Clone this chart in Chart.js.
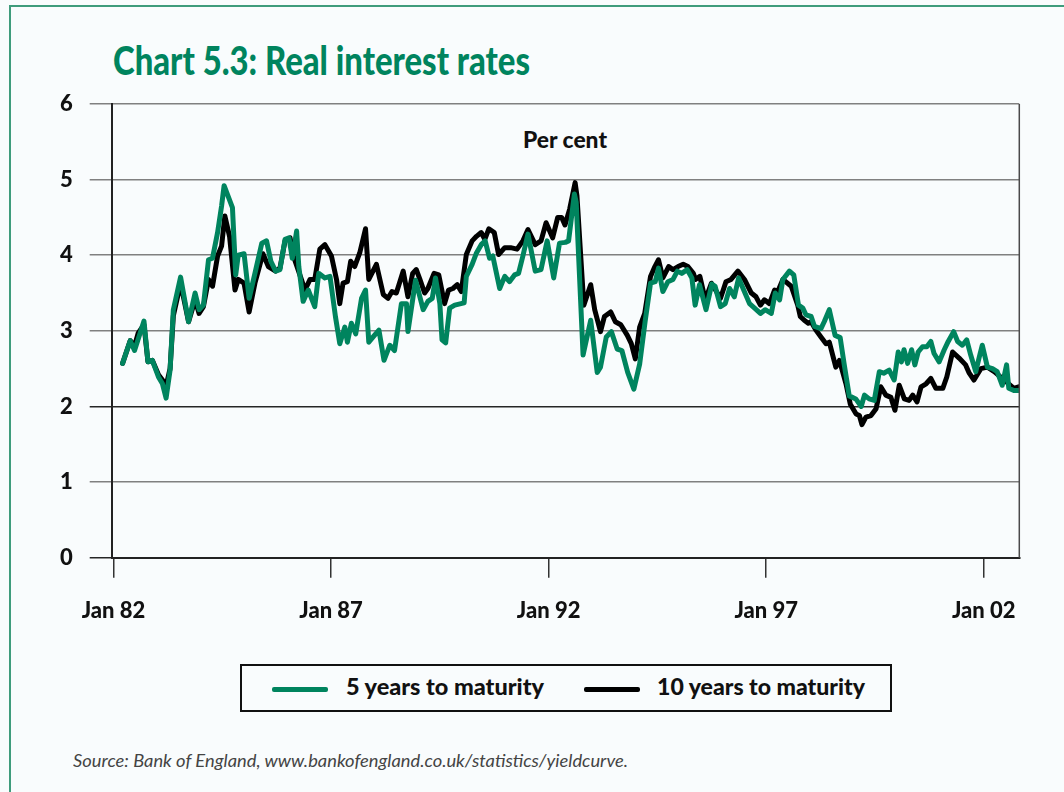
<!DOCTYPE html>
<html>
<head>
<meta charset="utf-8">
<script src="https://cdn.jsdelivr.net/npm/chart.js@4.4.1/dist/chart.umd.min.js"></script>
<style>
  html, body { margin: 0; padding: 0; background: #f9fcfd; }
  body { width: 1064px; height: 792px; position: relative; overflow: hidden; font-family: Lato, "Open Sans", sans-serif; }
  #frame { position: absolute; left: 9px; top: 5px; width: 1100px; height: 900px; border-top: 2px solid #3f9c7c; border-left: 2px solid #3f9c7c; }
  .txt { position: absolute; white-space: nowrap; line-height: 1; transform-origin: 0 0; }
  #title { left: 113px; top: 40px; font-size: 40px; font-weight: 900; color: #00845e; }
  #percent { left: 523px; top: 129px; font-size: 22px; font-weight: 900; color: #111; }
  #legend { position: absolute; left: 240px; top: 664px; width: 652px; height: 48px; border: 2px solid #111; box-sizing: border-box; }
  .sw { position: absolute; height: 5px; border-radius: 2px; top: 21px; width: 56px; }
  .lt { position: absolute; top: 9px; font-size: 23px; font-weight: 900; color: #111; white-space: nowrap; line-height: 1; transform-origin: 0 0; }
  #source { left: 73px; top: 752px; font-size: 17px; font-style: italic; color: #444; }
  #chart { position: absolute; left: 0; top: 0; }
</style>
</head>
<body>
<div id="frame"></div>
<div class="txt" id="title" data-w="417">Chart 5.3: Real interest rates</div>
<div class="txt" id="percent" data-w="84">Per cent</div>
<canvas id="chart" width="1064" height="640"></canvas>
<div id="legend">
  <div class="sw" style="left:30px;background:#00845e"></div>
  <div class="lt" style="left:104px" data-w="198">5 years to maturity</div>
  <div class="sw" style="left:342px;background:#000"></div>
  <div class="lt" style="left:415px" data-w="208">10 years to maturity</div>
</div>
<div class="txt" id="source" data-w="555">Source: Bank of England, www.bankofengland.co.uk/statistics/yieldcurve.</div>

<script>
// Months counted from Jan 1982 (0 = Jan 82)
const tickMonths = [0, 60, 120, 180, 240];
const tickLabels = ['Jan 82', 'Jan 87', 'Jan 92', 'Jan 97', 'Jan 02'];
const seriesNames = ['5 years to maturity', '10 years to maturity'];

const months5 = [2.5,4.6,5.8,8.4,9.5,10.7,12.4,13.5,14.5,15.6,16.5,18.5,20.7,22.5,23.6,24.8,26.2,27.3,28.7,29.8,30.5,32.8,33.7,34.4,36.0,37.4,39.0,40.9,42.2,43.4,44.7,45.9,47.3,48.4,49.3,50.5,51.1,52.3,53.7,55.5,56.6,58.3,59.7,61.2,62.4,63.8,64.5,65.6,66.8,68.4,69.5,70.4,71.6,73.2,74.6,76.2,77.5,79.4,80.8,81.2,83.3,85.4,86.7,87.9,88.8,90.0,90.6,91.6,92.7,94.1,96.7,97.3,98.9,100.1,101.4,102.5,103.7,104.6,106.5,107.9,109.2,110.6,111.7,112.9,114.3,116.3,117.9,119.6,121.4,123.0,124.6,125.5,127.1,127.6,129.5,131.6,133.4,134.3,135.9,137.3,138.9,140.2,141.8,143.5,145.1,146.6,148.1,149.4,150.3,151.5,152.9,154.3,155.5,156.7,158.2,159.5,160.4,161.6,163.4,165.0,165.9,167.4,168.7,169.9,171.2,172.4,173.8,175.4,176.8,178.4,179.7,181.4,182.5,183.7,184.6,186.4,187.6,188.9,190.1,191.0,192.4,193.3,195.1,196.0,197.4,199.0,200.4,201.5,202.9,204.7,206.2,207.1,208.4,209.8,211.2,212.4,213.9,215.3,216.4,217.3,218.0,219.0,220.1,221.0,221.9,223.1,224.3,225.4,226.3,227.7,229.1,230.2,231.7,232.8,234.1,235.3,236.4,237.8,239.0,239.6,241.0,242.4,243.7,245.1,246.3,246.9,248.3,249.6];
const rate5 = [2.57,2.87,2.74,3.13,2.59,2.61,2.39,2.30,2.11,2.48,3.28,3.71,3.12,3.50,3.28,3.34,3.94,3.96,4.30,4.65,4.92,4.63,3.74,4.00,4.02,3.43,3.76,4.16,4.19,3.92,3.79,3.81,4.21,4.23,3.96,4.32,3.85,3.39,3.54,3.32,3.76,3.70,3.72,3.19,2.83,3.05,2.85,3.10,2.96,3.43,3.54,2.85,2.92,3.01,2.61,2.81,2.74,3.36,3.36,2.99,3.67,3.28,3.39,3.43,3.70,3.36,2.88,2.84,3.30,3.34,3.37,3.72,3.88,4.03,4.14,4.19,3.96,3.99,3.56,3.72,3.65,3.74,3.76,3.99,4.28,3.79,3.81,4.19,3.70,4.16,4.17,4.19,4.81,4.70,2.68,3.14,2.45,2.52,2.92,2.99,2.76,2.74,2.45,2.23,2.56,3.12,3.63,3.65,3.83,3.52,3.65,3.68,3.79,3.76,3.81,3.70,3.34,3.61,3.28,3.62,3.59,3.32,3.36,3.56,3.45,3.70,3.54,3.36,3.30,3.23,3.28,3.23,3.50,3.41,3.68,3.79,3.74,3.34,3.30,3.21,3.19,3.06,3.03,3.12,3.28,2.94,2.91,2.56,2.14,2.10,2.00,2.15,2.10,2.08,2.46,2.44,2.48,2.35,2.72,2.59,2.75,2.57,2.75,2.55,2.72,2.79,2.79,2.86,2.70,2.59,2.75,2.86,2.99,2.86,2.81,2.88,2.68,2.46,2.70,2.81,2.52,2.50,2.46,2.28,2.55,2.24,2.21,2.21];

const months10 = [2.5,4.6,5.8,6.8,8.4,9.5,10.7,12.4,13.5,14.5,15.6,16.5,18.5,20.7,22.5,23.6,24.8,26.2,27.3,28.7,29.8,30.7,32.0,33.5,34.4,36.0,37.4,39.0,41.2,42.7,44.7,45.9,47.3,48.7,49.6,50.9,52.8,54.2,55.5,56.9,58.3,60.1,61.5,62.4,63.3,64.5,65.4,66.5,67.9,69.5,70.4,72.5,74.4,75.7,76.8,78.0,79.9,81.2,82.5,83.5,84.5,85.8,86.7,88.4,89.7,91.3,92.4,93.6,94.8,95.9,97.3,98.9,100.1,101.4,102.4,103.5,105.0,106.2,107.9,109.5,111.3,112.9,114.3,116.3,117.9,119.3,121.1,122.5,123.6,124.5,125.8,127.3,127.8,129.7,131.6,132.7,134.3,135.4,137.1,138.4,139.9,141.7,142.8,143.9,145.1,146.5,148.1,149.3,150.3,151.5,153.1,154.3,155.7,157.1,158.4,159.9,160.5,161.7,163.2,164.9,167.4,168.9,170.3,172.2,174.0,175.9,177.2,178.4,179.5,180.9,182.3,183.2,184.6,186.9,188.7,189.4,190.5,191.6,192.4,193.7,195.1,196.5,197.4,199.2,200.2,202.0,203.2,204.8,205.7,206.4,207.5,208.9,210.3,211.6,213.0,214.4,215.5,216.7,218.1,219.4,220.4,221.6,222.7,224.1,225.4,226.8,228.7,229.8,231.4,233.2,235.0,236.0,237.3,239.2,241.0,242.9,244.6,246.4,248.3,249.6];
const rate10 = [2.57,2.87,2.80,2.97,3.08,2.59,2.61,2.42,2.35,2.27,2.50,3.20,3.63,3.12,3.41,3.23,3.32,3.68,3.59,3.99,4.12,4.52,4.25,3.54,3.68,3.63,3.25,3.63,4.02,3.85,3.79,3.83,4.19,4.23,3.99,3.81,3.54,3.68,3.68,4.08,4.14,3.99,3.68,3.36,3.63,3.65,3.92,3.85,4.03,4.35,3.68,3.88,3.48,3.43,3.52,3.50,3.79,3.45,3.76,3.81,3.68,3.50,3.56,3.76,3.74,3.36,3.54,3.56,3.61,3.52,4.01,4.19,4.25,4.30,4.21,4.35,4.30,4.01,4.10,4.10,4.08,4.19,4.34,4.14,4.19,4.43,4.23,4.50,4.50,4.40,4.61,4.96,4.79,3.34,3.61,3.28,2.99,3.19,3.25,3.12,3.08,2.94,2.83,2.63,3.05,3.23,3.72,3.85,3.94,3.70,3.85,3.81,3.85,3.88,3.85,3.76,3.68,3.72,3.41,3.63,3.43,3.65,3.68,3.79,3.68,3.50,3.45,3.34,3.41,3.36,3.54,3.52,3.68,3.59,3.34,3.19,3.14,3.10,3.12,3.01,2.92,2.83,2.85,2.52,2.61,2.30,2.03,1.90,1.88,1.76,1.86,1.88,1.97,2.26,2.15,2.12,1.95,2.28,2.10,2.08,2.15,2.06,2.26,2.30,2.37,2.24,2.24,2.39,2.72,2.64,2.55,2.44,2.35,2.50,2.52,2.46,2.39,2.32,2.24,2.26];

const GREEN = '#00845e';

function toPoints(xs, ys) { return xs.map((x, i) => ({ x: x, y: ys[i] })); }

const frameRight = {
  id: 'frameRight',
  afterDatasetsDraw(chart) {
    const a = chart.chartArea, c = chart.ctx;
    c.save();
    c.strokeStyle = '#4a4a4a';
    c.lineWidth = 1.5;
    c.beginPath();
    c.moveTo(a.right, a.top);
    c.lineTo(a.right, a.bottom);
    c.stroke();
    c.restore();
  }
};

const tickFont = { family: 'Lato, "Open Sans", sans-serif', size: 22, weight: '900' };

new Chart(document.getElementById('chart'), {
  type: 'line',
  data: {
    datasets: [
      { label: seriesNames[0], data: toPoints(months5, rate5), borderColor: GREEN, borderWidth: 5, pointRadius: 0, tension: 0, borderJoinStyle: 'round', borderCapStyle: 'round' },
      { label: seriesNames[1], data: toPoints(months10, rate10), borderColor: '#000', borderWidth: 5, pointRadius: 0, tension: 0, borderJoinStyle: 'round', borderCapStyle: 'round' }
    ]
  },
  options: {
    responsive: false,
    animation: false,
    devicePixelRatio: 1,
    layout: { padding: { left: 0, top: 104, right: 44.7, bottom: 0 } },
    plugins: { legend: { display: false }, tooltip: { enabled: false }, title: { display: false } },
    scales: {
      x: {
        type: 'linear',
        min: -0.5,
        max: 249.8,
        afterBuildTicks(scale) { scale.ticks = tickMonths.map(v => ({ value: v })); },
        afterFit(scale) { scale.height = 640 - 557.7; },
        ticks: {
          callback: (v) => { const i = tickMonths.indexOf(v); return i >= 0 ? tickLabels[i] : ''; },
          font: tickFont, color: '#111', padding: 20, maxRotation: 0, autoSkip: false
        },
        grid: { drawOnChartArea: false, drawTicks: true, tickLength: 20, color: '#333', lineWidth: 1.5 },
        border: { display: true, color: '#222', width: 2 }
      },
      y: {
        min: 0, max: 6,
        afterFit(scale) { scale.width = 111.7; },
        ticks: { stepSize: 1, font: tickFont, color: '#111', padding: 17 },
        grid: {
          tickLength: 22,
          color: (ctx) => (ctx.tick && (ctx.tick.value === 0 || ctx.tick.value === 2)) ? '#262626' : '#808080',
          lineWidth: 1.5
        },
        border: { display: true, color: '#222', width: 2 }
      }
    }
  },
  plugins: [frameRight]
});

function fit() {
  document.querySelectorAll('[data-w]').forEach(el => {
    el.style.transform = 'none';
    const w = el.getBoundingClientRect().width;
    const target = parseFloat(el.getAttribute('data-w'));
    if (w > 0) el.style.transform = 'scaleX(' + (target / w).toFixed(4) + ')';
  });
}
fit();
if (document.fonts && document.fonts.ready) document.fonts.ready.then(fit);
</script>
</body>
</html>
